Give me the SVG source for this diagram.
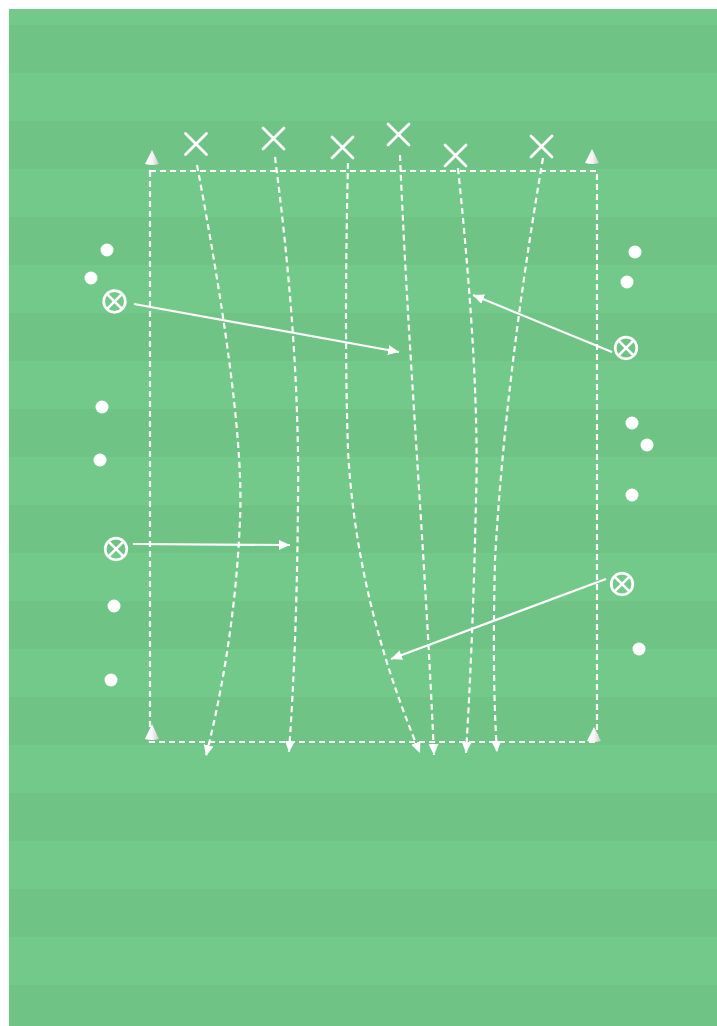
<svg xmlns="http://www.w3.org/2000/svg" width="717" height="1026" viewBox="0 0 717 1026">
<style>
.light{fill:#73c98a}
.dark{fill:#6ec385}
.dash{fill:none;stroke:#ffffff;stroke-width:2.2;stroke-dasharray:6 4}
.run{fill:none;stroke:#ffffff;stroke-width:2.2;stroke-dasharray:6 4;marker-end:url(#ah)}
.pass{fill:none;stroke:#ffffff;stroke-width:2.2;marker-end:url(#ah2)}
.xm{stroke:#ffffff;stroke-width:2.8;stroke-linecap:round;fill:none}
.dot{fill:#ffffff}
.cx{fill:none;stroke:#ffffff;stroke-width:2.7}
.cone{fill:url(#cg)}
</style>
<defs>
<marker id="ah" markerUnits="userSpaceOnUse" markerWidth="13" markerHeight="11" refX="11" refY="5" orient="auto"><path d="M0,0 L11,5 L0,10 z" fill="#ffffff"/></marker>
<marker id="ah2" markerUnits="userSpaceOnUse" markerWidth="13" markerHeight="11" refX="11" refY="5" orient="auto"><path d="M0,0 L11,5 L0,10 z" fill="#ffffff"/></marker>
<linearGradient id="cg" x1="0" y1="0" x2="1" y2="0"><stop offset="0" stop-color="#ffffff"/><stop offset="0.55" stop-color="#f4f4f4"/><stop offset="1" stop-color="#c9c9c9"/></linearGradient>
</defs>
<rect x="0" y="0" width="717" height="1026" fill="#ffffff"/>
<g id="field">
<rect x="9" y="9" width="708" height="1017" class="light"/>
<rect x="9" y="25" width="708" height="48" class="dark"/>
<rect x="9" y="121" width="708" height="48" class="dark"/>
<rect x="9" y="217" width="708" height="48" class="dark"/>
<rect x="9" y="313" width="708" height="48" class="dark"/>
<rect x="9" y="409" width="708" height="48" class="dark"/>
<rect x="9" y="505" width="708" height="48" class="dark"/>
<rect x="9" y="601" width="708" height="48" class="dark"/>
<rect x="9" y="697" width="708" height="48" class="dark"/>
<rect x="9" y="793" width="708" height="48" class="dark"/>
<rect x="9" y="889" width="708" height="48" class="dark"/>
<rect x="9" y="985" width="708" height="41" class="dark"/>
</g>
<g id="area">
<rect x="150" y="171" width="447" height="571" class="dash"/>
</g>
<g id="cones">
<path class="cone" d="M152,150 L145,164 Q152,166 159,164 Z"/>
<path class="cone" d="M592,149 L585,163 Q592,165 599,163 Z"/>
<path class="cone" d="M152,724 L145,739 Q152,741 159,739 Z"/>
<path class="cone" d="M594,727 L587,741 Q594,743 601,741 Z"/>
</g>
<g id="connectors">
<path class="run" d="M197,165 Q245,420 240,520 Q235,640 206,756"/>
<path class="run" d="M275,157 Q300,350 298,500 Q297,640 289,752"/>
<path class="run" d="M348,163 Q344,330 348,450 Q356,600 420,753"/>
<path class="run" d="M400,155 C408,350 425,550 434,755"/>
<path class="run" d="M458,168 Q480,380 476,500 Q473,640 466,753"/>
<path class="run" d="M543,158 Q505,380 495,560 Q492,680 497,752"/>
<path class="pass" d="M134,304 L399,352"/>
<path class="pass" d="M133,544 L290,545"/>
<path class="pass" d="M612,352 L473,295"/>
<path class="pass" d="M606,579 L391,659"/>
</g>
<g id="attackers">
<path class="xm" d="M185.5,133.5 L206.5,154.5 M206.5,133.5 L185.5,154.5"/>
<path class="xm" d="M263,128 L284,149 M284,128 L263,149"/>
<path class="xm" d="M332,137 L353,158 M353,137 L332,158"/>
<path class="xm" d="M388,124 L409,145 M409,124 L388,145"/>
<path class="xm" d="M445,145 L466,166 M466,145 L445,166"/>
<path class="xm" d="M531,136 L552,157 M552,136 L531,157"/>
</g>
<g id="players-left">
<circle class="dot" cx="107" cy="250" r="6.5"/>
<circle class="dot" cx="91" cy="278" r="6.5"/>
<circle class="dot" cx="102" cy="407" r="6.5"/>
<circle class="dot" cx="100" cy="460" r="6.5"/>
<circle class="dot" cx="114" cy="606" r="6.5"/>
<circle class="dot" cx="111" cy="680" r="6.5"/>
</g>
<g id="players-right">
<circle class="dot" cx="635" cy="252" r="6.5"/>
<circle class="dot" cx="627" cy="282" r="6.5"/>
<circle class="dot" cx="632" cy="423" r="6.5"/>
<circle class="dot" cx="647" cy="445" r="6.5"/>
<circle class="dot" cx="632" cy="495" r="6.5"/>
<circle class="dot" cx="639" cy="649" r="6.5"/>
</g>
<g id="passer-1"><circle class="cx" cx="114.5" cy="301.5" r="10.8"/><path class="cx" d="M107.1,294.1 L121.9,308.9 M121.9,294.1 L107.1,308.9"/></g>
<g id="passer-2"><circle class="cx" cx="116" cy="549" r="10.8"/><path class="cx" d="M108.6,541.6 L123.4,556.4 M123.4,541.6 L108.6,556.4"/></g>
<g id="passer-3"><circle class="cx" cx="626" cy="348" r="10.8"/><path class="cx" d="M618.6,340.6 L633.4,355.4 M633.4,340.6 L618.6,355.4"/></g>
<g id="passer-4"><circle class="cx" cx="622" cy="584" r="10.8"/><path class="cx" d="M614.6,576.6 L629.4,591.4 M629.4,576.6 L614.6,591.4"/></g>
</svg>
